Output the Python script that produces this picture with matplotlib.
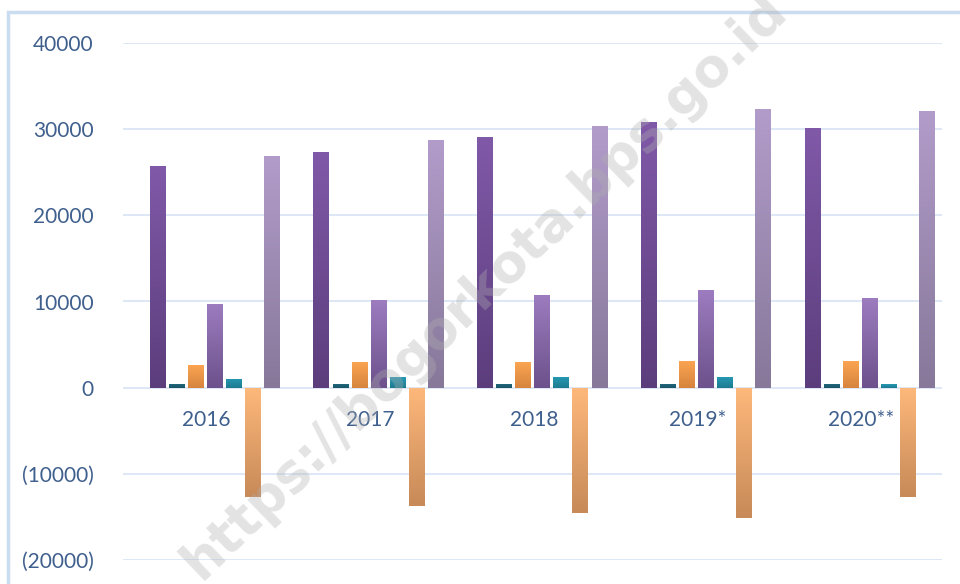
import numpy as np
import matplotlib
matplotlib.use("Agg")
import matplotlib.pyplot as plt
from matplotlib.colors import LinearSegmentedColormap
from matplotlib.patches import Rectangle


# =========================
# DATA
# =========================
years = ["2016", "2017", "2018", "2019*", "2020**"]

s1 = [25750, 27400, 29100, 30850, 30150]
s2 = [420, 420, 420, 420, 420]
s3 = [2650, 3000, 3000, 3100, 3100]
s4 = [9750, 10200, 10800, 11350, 10450]
s5 = [1050, 1250, 1250, 1250, 450]
s6 = [-12650, -13750, -14600, -15150, -12700]
s7 = [26900, 28750, 30400, 32350, 32150]

series = [s1, s2, s3, s4, s5, s6, s7]

# top colour, bottom colour
colors = [
    ("#8059a8", "#5c3d7c"),
    ("#21677c", "#1a5566"),
    ("#fba552", "#d6843e"),
    ("#9d7cbf", "#6c518c"),
    ("#2699b3", "#1d7a8f"),
    ("#feb87b", "#c78a58"),
    ("#b29cca", "#87789a"),
]

TEXT_COLOR = "#3f5f8d"
GRID_COLOR = "#d7e3f3"


def gradient_bars(ax, bars, c_top, c_bot):
    cmap = LinearSegmentedColormap.from_list("g", [c_bot, c_top])
    grad = np.linspace(0, 1, 256).reshape(-1, 1)
    for b in bars:
        x0, y0 = b.get_x(), b.get_y()
        w, h = b.get_width(), b.get_height()
        lo, hi = min(y0, y0 + h), max(y0, y0 + h)
        im = ax.imshow(grad, cmap=cmap, origin="lower", aspect="auto",
                       extent=(x0, x0 + w, lo, hi), zorder=3)
        im.set_clip_path(b)


# =========================
# PLOT
# =========================
fig = plt.figure(figsize=(9.6, 5.84), dpi=100)
fig.patches.append(Rectangle((8 / 960, -0.1), 1.2, 1 - 12 / 584 + 0.1,
                             transform=fig.transFigure, fill=False,
                             edgecolor="#c9dcf0", linewidth=2.5))

ax = fig.add_axes([123 / 960, 24 / 584, 819 / 960, 517 / 584])

x = np.arange(len(years))
n_slots = 8  # first slot is an empty series in the original chart
pitch = 1 / (n_slots + 0.6)
width = pitch * 0.8

for i, (vals, (ct, cb)) in enumerate(zip(series, colors)):
    offs = (i + 1 - (n_slots - 1) / 2) * pitch
    bars = ax.bar(x + offs, vals, width, color="none", zorder=3)
    gradient_bars(ax, bars, ct, cb)

ax.set_xlim(-0.5, len(years) - 0.5)
ax.set_ylim(-20000, 40000)
ax.set_yticks(np.arange(-20000, 40001, 10000))
ax.set_yticklabels([f"({abs(v)})" if v < 0 else str(v)
                    for v in range(-20000, 40001, 10000)])
ax.grid(axis="y", color=GRID_COLOR, linewidth=1.2, zorder=0)
ax.set_axisbelow(True)
for sp in ax.spines.values():
    sp.set_visible(False)
ax.tick_params(axis="y", length=0, pad=21, labelsize=15,
               labelcolor=TEXT_COLOR)
ax.set_xticks([])
for lab in ax.get_yticklabels():
    lab.set_family("Lato")

for xi, yr in zip(x, years):
    ax.annotate(yr, (xi, 0), xytext=(1, -23), textcoords="offset points",
                ha="center", va="center", fontsize=15, color=TEXT_COLOR,
                family="Lato", zorder=4)

# watermark
fig.text(0.505, 0.51, "https://bogorkota.bps.go.id", rotation=44,
         fontsize=38, fontweight="bold", color="#b0b0b0", alpha=0.35,
         ha="center", va="center", family="DejaVu Sans")

fig.savefig("out.png", dpi=100)
